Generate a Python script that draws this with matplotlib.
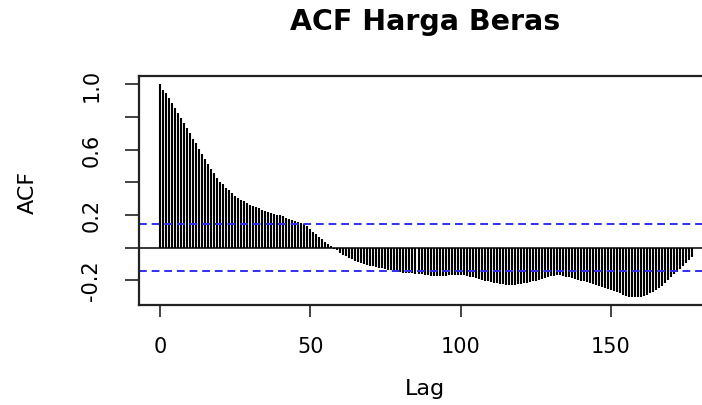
import matplotlib.pyplot as plt

# ACF values, lag 0 .. 177
lags = list(range(178))
acf_values = [
    1.000, 0.966, 0.946, 0.916, 0.885, 0.855, 0.824, 0.794, 0.763, 0.733,
    0.702, 0.666, 0.637, 0.605, 0.574, 0.544, 0.509, 0.483, 0.454, 0.428,
    0.401, 0.387, 0.367, 0.352, 0.332, 0.316, 0.302, 0.291, 0.282, 0.271,
    0.261, 0.253, 0.245, 0.239, 0.230, 0.224, 0.218, 0.210, 0.206, 0.200,
    0.196, 0.190, 0.182, 0.174, 0.170, 0.162, 0.154, 0.149, 0.143, 0.129,
    0.113, 0.096, 0.082, 0.066, 0.052, 0.035, 0.021, 0.007, -0.008, -0.018,
    -0.035, -0.045, -0.055, -0.063, -0.072, -0.080, -0.087, -0.094, -0.100, -0.106,
    -0.111, -0.115, -0.119, -0.123, -0.127, -0.131, -0.135, -0.139, -0.143, -0.147,
    -0.151, -0.153, -0.155, -0.157, -0.159, -0.161, -0.163, -0.165, -0.168, -0.170,
    -0.172, -0.172, -0.173, -0.173, -0.173, -0.172, -0.171, -0.170, -0.169, -0.168,
    -0.168, -0.170, -0.174, -0.178, -0.183, -0.188, -0.193, -0.198, -0.203, -0.208,
    -0.212, -0.216, -0.219, -0.222, -0.225, -0.227, -0.228, -0.228, -0.227, -0.225,
    -0.223, -0.220, -0.216, -0.212, -0.207, -0.202, -0.197, -0.191, -0.186, -0.181,
    -0.176, -0.172, -0.169, -0.168, -0.172, -0.178, -0.183, -0.188, -0.194, -0.199,
    -0.204, -0.208, -0.213, -0.218, -0.222, -0.228, -0.234, -0.240, -0.246, -0.252,
    -0.259, -0.266, -0.273, -0.281, -0.289, -0.296, -0.300, -0.303, -0.304, -0.303,
    -0.300, -0.295, -0.289, -0.281, -0.272, -0.262, -0.249, -0.235, -0.218, -0.200,
    -0.182, -0.165, -0.148, -0.131, -0.113, -0.095, -0.077, -0.060,
]
conf_limit = 0.146  # 1.96 / sqrt(n), n ~ 180

x_ticks = [0, 50, 100, 150]
y_ticks = [-0.2, 0.0, 0.2, 0.4, 0.6, 0.8, 1.0]
y_tick_labels = ["-0.2", "", "0.2", "", "0.6", "", "1.0"]

plt.rcParams['font.family'] = ['DejaVu Sans']

fig = plt.figure(figsize=(7.02, 4.06), dpi=100)
ax = fig.add_axes([0.198, 0.2463, 0.8177, 0.5648])

ax.vlines(lags, 0, acf_values, colors='black', linewidth=1.5)
ax.axhline(0, color='black', linewidth=1.1)
ax.axhline(conf_limit, color='#3030ee', linewidth=1.4, dashes=(4, 2.5))
ax.axhline(-conf_limit, color='#3030ee', linewidth=1.4, dashes=(4, 2.5))

ax.set_xlim(-7.08, 184.08)
ax.set_ylim(-0.352, 1.052)

for s in ax.spines.values():
    s.set_linewidth(1.6)
    s.set_color('#222222')

ax.set_xticks(x_ticks)
ax.set_xticklabels([str(v) for v in x_ticks])
ax.set_yticks(y_ticks)
ax.set_yticklabels(y_tick_labels, rotation=90, va='center')
ax.tick_params(axis='x', length=8.6, width=1.2, pad=14, labelsize=15, color='#222222')
ax.tick_params(axis='y', length=10, width=1.2, pad=17, labelsize=15, color='#222222')

fig.text(0.605, 0.946, "ACF Harga Beras", ha='center', va='center',
         fontsize=20.5, fontweight='bold')
fig.text(0.606, 0.042, "Lag", ha='center', va='center', fontsize=16)
fig.text(0.04, 0.527, "ACF", ha='center', va='center', fontsize=16, rotation=90)

plt.savefig('out.png', dpi=100)
